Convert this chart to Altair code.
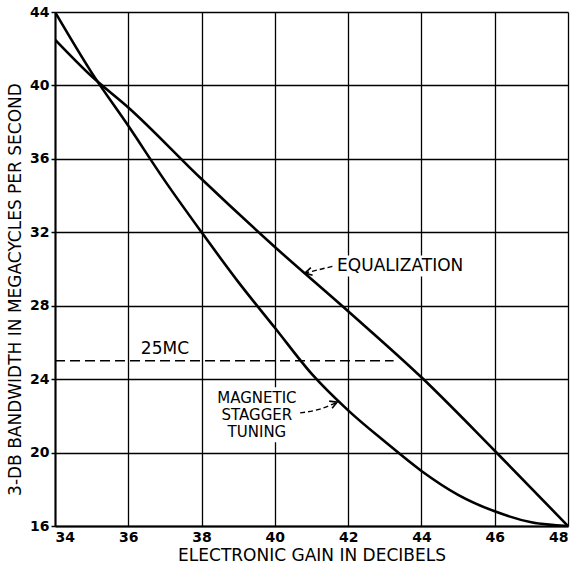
import altair as alt
import pandas as pd

# ---- data ----
gain_mst = [34, 35, 36, 37, 38, 39, 40, 41, 42, 43, 44, 45, 46, 47, 48]
bw_mst = [44.0, 40.7, 37.8, 34.8, 32.0, 29.3, 26.8, 24.3, 22.3, 20.6, 19.0, 17.7, 16.8, 16.2, 16.0]
gain_eq = [34, 35, 36, 38, 40, 42, 44, 46, 48]
bw_eq = [42.5, 40.5, 38.8, 34.9, 31.2, 27.7, 24.1, 20.1, 16.0]

ref_gain = [34.0, 43.24]
ref_bw = [25.0, 25.0]

x_ticks = [34, 36, 38, 40, 42, 44, 46, 48]
y_ticks = [16, 20, 24, 28, 32, 36, 40, 44]

label_text = ["25MC", "EQUALIZATION", "MAGNETIC\nSTAGGER\nTUNING"]
label_x = [37.0, 43.42, 39.51]
label_y = [25.65, 30.17, 22.98]
label_lines = [1, 1, 3]
label_size = [17, 17, 15]

arrow_id = ["eq", "eq", "mst", "mst", "mst"]
arrow_x = [41.57, 40.82, 40.69, 41.23, 41.70]
arrow_y = [30.14, 29.78, 22.16, 22.37, 22.75]
arrow_ord = [0, 1, 0, 1, 2]

head_x = [40.82, 41.70]
head_y = [29.78, 22.75]
head_ang = [167, 338]

# ---- layout ----
W, H = 513, 514
X0, X1, Y0, Y1 = 34, 48, 16, 44
FONT = "DejaVu Sans"
LH = 17
px_x = W / (X1 - X0)
px_y = H / (Y1 - Y0)

# ---- tables ----
curves = pd.DataFrame({
    "gain": gain_mst + gain_eq,
    "bw": bw_mst + bw_eq,
    "series": ["Magnetic stagger tuning"] * len(gain_mst) + ["Equalization"] * len(gain_eq),
})
ref = pd.DataFrame({"gain": ref_gain, "bw": ref_bw})
labels = pd.DataFrame({"text": label_text, "gain": label_x, "bw": label_y, "fs": label_size})
arrows = pd.DataFrame({"id": arrow_id, "gain": arrow_x, "bw": arrow_y, "ord": arrow_ord})
heads = pd.DataFrame({"gain": head_x, "bw": head_y, "ang": head_ang})

# white knock-out boxes behind the annotation texts (sized from the texts)
half_w = [max(len(s) for s in t.split("\n")) * 0.68 * fs / 2 / px_x
          for t, fs in zip(label_text, label_size)]
half_h = [(n * LH + 4) / 2 / px_y for n in label_lines]
centre_y = [gy - (n - 1) * LH / 2 / px_y for gy, n in zip(label_y, label_lines)]
boxes = pd.DataFrame({
    "x": [gx - w for gx, w in zip(label_x, half_w)],
    "x2": [gx + w for gx, w in zip(label_x, half_w)],
    "y": [cy - h for cy, h in zip(centre_y, half_h)],
    "y2": [cy + h for cy, h in zip(centre_y, half_h)],
})

xs = alt.Scale(domain=[X0, X1], nice=False, zero=False)
ys = alt.Scale(domain=[Y0, Y1], nice=False, zero=False)

x_axis = alt.Axis(
    values=x_ticks, title="ELECTRONIC GAIN IN DECIBELS", grid=True, ticks=False,
    labelPadding=4, labelFontSize=14, labelFontWeight="bold", labelFont=FONT, labelColor="black",
    titleFont=FONT, titleFontSize=17, titleFontWeight="normal", titleColor="black",
    titleY=29, titleBaseline="middle",
    domainColor="black", domainWidth=2, gridColor="black", gridWidth=1.3, gridOpacity=1,
)
y_axis = alt.Axis(
    values=y_ticks, title="3-DB BANDWIDTH IN MEGACYCLES PER SECOND", grid=True,
    ticks=True, tickSize=4, tickColor="black", tickWidth=1.5,
    labelPadding=2, labelFontSize=14, labelFontWeight="bold", labelFont=FONT, labelColor="black",
    titleFont=FONT, titleFontSize=17, titleFontWeight="normal", titleColor="black",
    titleX=-40, titleY=277, titleBaseline="middle", titleAngle=270,
    domainColor="black", domainWidth=2, gridColor="black", gridWidth=1.3, gridOpacity=1,
)

X = alt.X("gain:Q", scale=xs, axis=x_axis)
Y = alt.Y("bw:Q", scale=ys, axis=y_axis)

knock = alt.Chart(boxes).mark_rect(color="white", opacity=1).encode(
    x=alt.X("x:Q", scale=xs, axis=x_axis), x2="x2:Q",
    y=alt.Y("y:Q", scale=ys, axis=y_axis), y2="y2:Q",
)

lines = alt.Chart(curves).mark_line(
    color="black", strokeWidth=2.6, interpolate="monotone", clip=True,
).encode(x=X, y=Y, detail="series:N")

refline = alt.Chart(ref).mark_line(
    color="black", strokeWidth=1.5, strokeDash=[10, 5],
).encode(x=X, y=Y)

texts = alt.Chart(labels).mark_text(
    font=FONT, color="black", align="center", baseline="middle",
    lineBreak="\n", lineHeight=LH,
).encode(x=X, y=Y, text="text:N", size=alt.Size("fs:Q", scale=None, legend=None))

arrow_lines = alt.Chart(arrows).mark_line(
    color="black", strokeWidth=1.4, strokeDash=[5, 3], interpolate="monotone",
).encode(x=X, y=Y, detail="id:N", order="ord:Q")

arrow_heads = alt.Chart(heads).mark_point(
    shape="M-1,-0.55L0,0L-1,0.55", filled=False, stroke="black", strokeWidth=1.6,
    size=196, opacity=1,
).encode(x=X, y=Y, angle=alt.Angle("ang:Q", scale=None))

chart = alt.layer(knock, lines, refline, texts, arrow_lines, arrow_heads).properties(
    width=W, height=H,
    autosize=alt.AutoSizeParams(type="none"),
    padding={"left": 55, "top": 12, "right": 13, "bottom": 41},
).configure_view(stroke="black", strokeWidth=2).configure(background="white")

chart.save("out.html", embed_options={"renderer": "svg", "actions": False})
